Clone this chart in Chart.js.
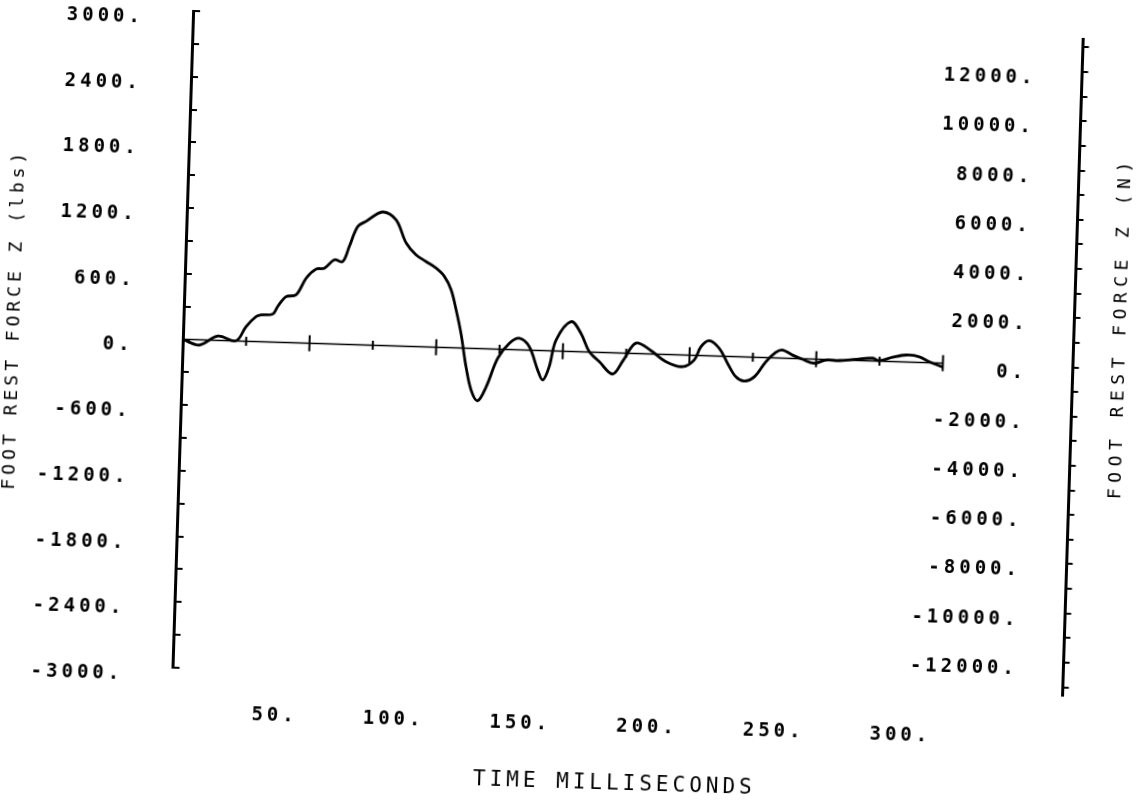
<!DOCTYPE html>
<html>
<head>
<meta charset="utf-8">
<title>Foot rest force Z</title>
<script src="https://cdn.jsdelivr.net/npm/chart.js@4.4.1/dist/chart.umd.min.js"></script>
<style>
    html, body { margin: 0; padding: 0; background: #fff; overflow: hidden; }
    /* the scanned plot sits slightly rotated on the page */
    #wrap { width: 1141px; height: 806px; transform: rotate(1.8deg); }
</style>
</head>
<body>
<div id="wrap"><canvas id="forceChart"></canvas></div>
<script>
// trace: time (ms) and foot rest force Z (lbs)
const timeMs = [
    0, 6.6, 13.8, 21, 24.8, 28.6, 30.6, 35.2, 37, 40.2, 44.1, 47.9, 51.7, 55,
    58.8, 62.1, 64.5, 67.6, 70.8, 77.2, 82.6, 86.9, 90.9, 95, 99, 102.4, 105.2,
    107.4, 109.6, 112, 114.3, 117, 120.2, 124.4, 128.8, 132.7, 136.7, 140.3,
    142.4, 144.8, 147.2, 152.9, 156.9, 160.4, 164.5, 169.9, 174, 178.7, 184.5,
    190.8, 197.4, 201.9, 204.4, 207.6, 211.6, 215.1, 218.5, 221.9, 225.9, 230.2,
    234, 236.6, 240.6, 244.6, 249.2, 253.8, 259, 265.7, 272.2, 274.9, 280.1,
    285.4, 290.6, 294.6, 300
];
const forceLbs = [
    0, -48, 40, 2, 134, 228, 245, 257, 326, 419, 438, 594, 679, 690,
    769, 756, 895, 1080, 1129, 1219, 1152, 942, 838, 779, 722, 648, 528,
    347, 134, -169, -381, -477, -347, -83, 58, 106, 32, -179,
    -269, -145, 100, 273, 169, 4, -85, -194, -63, 95, 35,
    -66, -107, -42, 81, 138, 72, -63, -183, -220, -177, -37,
    51, 74, 31, -5, -38, -5, -7, 10, 25, 5, 39,
    64, 52, 9, -35
];

// tick marks along the zero line
const zeroLineMs = [0, 300];
const minorMarksMs = [25, 75, 125, 175, 225, 275];
const majorMarksMs = [50, 100, 150, 200, 250, 300];

const timeTickLabels = [50, 100, 150, 200, 250, 300];

// right axis ticks (N), labelled every 2000
const newtonTicks = [
    -13000, -12000, -11000, -10000, -9000, -8000, -7000, -6000, -5000,
    -4000, -3000, -2000, -1000, 0, 1000, 2000, 3000, 4000, 5000, 6000,
    7000, 8000, 9000, 10000, 11000, 12000, 13000
];

const timeMaxMs = 351.3;        // right axis sits at this time
const lbsMin = -3000;
const lbsMax = 3000;
const lbsStep = 300;
const lbsLabelStep = 600;
const newtonLabelStep = 2000;
const lbsToNewton = 4.44822;

const fontFamily = "'DejaVu Sans Mono', monospace";
const tickFont = { family: fontFamily, size: 19, weight: "bold" };
const titleFont = { family: fontFamily, size: 18 };

const onZeroLine = ts => ts.map(t => ({ x: t, y: 0 }));

// plotter look: wide letter spacing; right axis title read bottom to top
const plotterText = {
    id: "plotterText",
    beforeDraw(chart) {
        chart.ctx.letterSpacing = "4px";
    },
    afterDraw(chart) {
        const { ctx, chartArea } = chart;
        ctx.save();
        ctx.fillStyle = "#000";
        ctx.letterSpacing = "5.5px";
        ctx.translate(chartArea.right + 47, (chartArea.top + chartArea.bottom) / 2 - 41);
        ctx.rotate(-Math.PI / 2);
        ctx.font = "18px " + fontFamily;
        ctx.textAlign = "center";
        ctx.textBaseline = "middle";
        ctx.fillText("FOOT REST FORCE Z (N)", 0, 0);
        ctx.restore();
    }
};

const noPadding = scale => {
    scale.paddingTop = 0;
    scale.paddingBottom = 0;
};

new Chart(document.getElementById("forceChart"), {

    type: "line",

    data: {
        datasets: [
            {
                data: timeMs.map((t, i) => ({ x: t, y: forceLbs[i] })),
                borderColor: "#000",
                borderWidth: 2.8,
                pointRadius: 0,
                tension: 0.35
            },
            {
                data: onZeroLine(zeroLineMs),
                borderColor: "#000",
                borderWidth: 1.6,
                pointRadius: 0
            },
            {
                data: onZeroLine(minorMarksMs),
                showLine: false,
                pointStyle: "line",
                rotation: 90,
                pointRadius: 4.5,
                borderWidth: 2,
                borderColor: "#000"
            },
            {
                data: onZeroLine(majorMarksMs),
                showLine: false,
                pointStyle: "line",
                rotation: 90,
                pointRadius: 8,
                borderWidth: 2,
                borderColor: "#000"
            }
        ]
    },

    options: {
        responsive: true,
        maintainAspectRatio: false,
        animation: false,
        layout: { padding: { top: 23, left: 0, right: 0, bottom: 0 } },
        plugins: {
            legend: { display: false },
            tooltip: { enabled: false }
        },
        scales: {
            x: {
                type: "linear",
                position: "bottom",
                min: 0,
                max: timeMaxMs,
                border: { display: false },
                grid: { display: false, drawTicks: false },
                afterBuildTicks: scale => {
                    scale.ticks = timeTickLabels.map(v => ({ value: v }));
                },
                ticks: {
                    align: "end",
                    padding: 34,
                    autoSkip: false,
                    maxRotation: 0,
                    color: "#000",
                    font: tickFont,
                    callback: v => v + "."
                },
                title: {
                    display: true,
                    text: "TIME MILLISECONDS",
                    color: "#000",
                    font: { family: fontFamily, size: 21 },
                    padding: { top: 0, bottom: 11 }
                },
                afterFit: scale => {
                    scale.height = 126;
                    scale.paddingLeft = 0;
                    scale.paddingRight = 0;
                }
            },
            y: {
                position: "left",
                min: lbsMin,
                max: lbsMax,
                border: { display: true, color: "#000", width: 3 },
                grid: { drawOnChartArea: false, tickLength: -7, color: "#000", lineWidth: 2 },
                ticks: {
                    stepSize: lbsStep,
                    autoSkip: false,
                    padding: 56,
                    labelOffset: 8,
                    color: "#000",
                    font: tickFont,
                    callback: v => (v % lbsLabelStep === 0 ? v + "." : "")
                },
                title: {
                    display: true,
                    text: "  FOOT REST FORCE Z (lbs)",
                    color: "#000",
                    font: titleFont,
                    padding: { top: 2, bottom: 0 }
                },
                afterFit: scale => {
                    scale.width = 181;
                    noPadding(scale);
                }
            },
            // right axis in newtons, labels mirrored inside the plot
            y2: {
                position: "right",
                min: lbsMin * lbsToNewton,
                max: lbsMax * lbsToNewton,
                border: { display: true, color: "#000", width: 3 },
                grid: { drawOnChartArea: false, tickLength: 6, color: "#000", lineWidth: 2 },
                afterBuildTicks: scale => {
                    scale.ticks = newtonTicks.map(v => ({ value: v }));
                },
                ticks: {
                    autoSkip: false,
                    mirror: true,
                    padding: -45.5,
                    labelOffset: 8,
                    color: "#000",
                    font: tickFont,
                    callback: v => (v % newtonLabelStep === 0 ? v + "." : "")
                },
                afterFit: scale => {
                    scale.width = 69.5;
                    noPadding(scale);
                }
            }
        }
    },

    plugins: [plotterText]

});
</script>
</body>
</html>
